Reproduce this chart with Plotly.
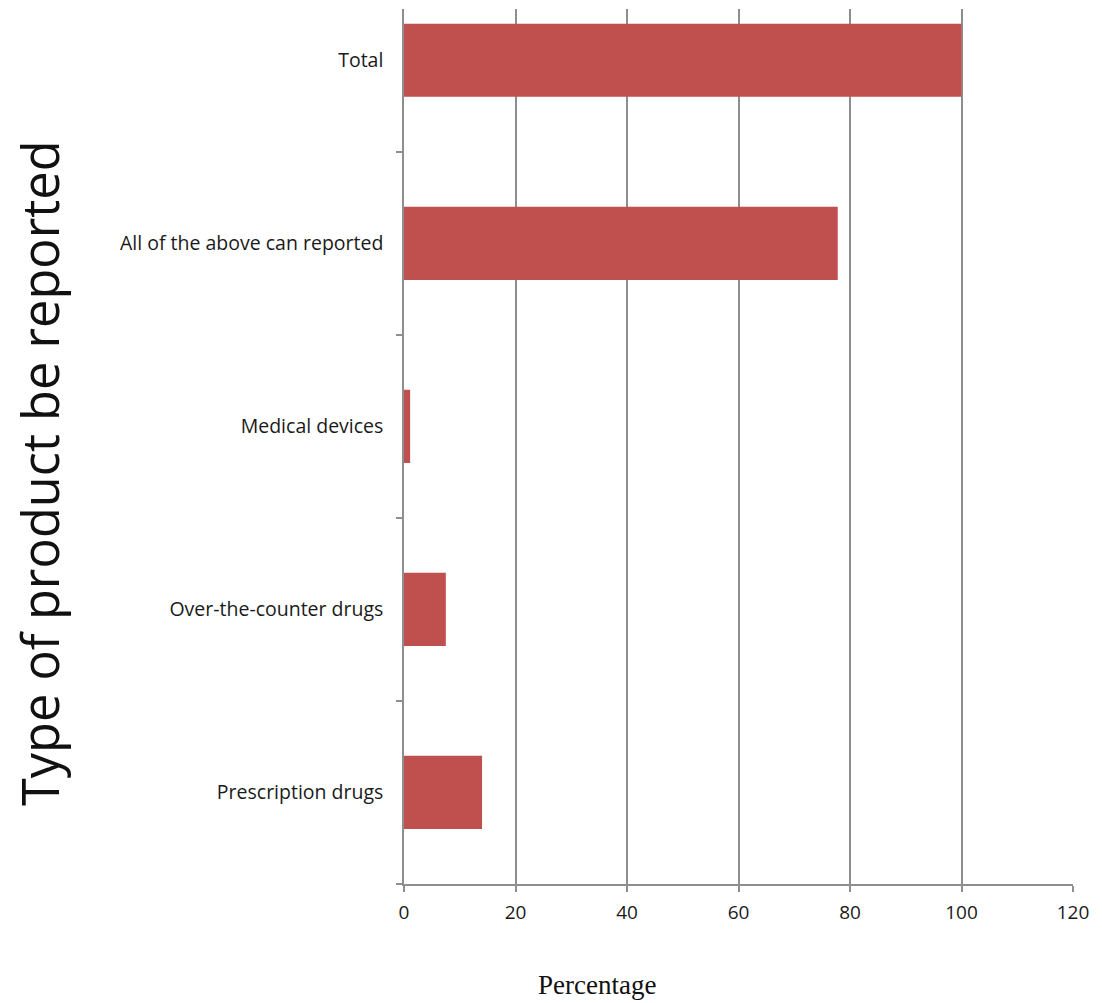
import plotly.graph_objects as go

# Share of reports by product type (percent)
categories = [
    "Prescription drugs",
    "Over-the-counter drugs",
    "Medical devices",
    "All of the above can reported",
    "Total",
]
percentages = [14.0, 7.5, 1.1, 77.8, 100.0]
x_ticks = [0, 20, 40, 60, 80, 100, 120]

BAR_COLOR = "#C0504D"
GRID_COLOR = "#8E8E8E"

W, H = 1102, 1003
ML, MR, MT, MB = 404, 29, 9, 119
PW, PH = W - ML - MR, H - MT - MB

fig = go.Figure(
    go.Bar(
        x=percentages,
        y=categories,
        orientation="h",
        width=0.4,
        marker=dict(color=BAR_COLOR, line=dict(width=0)),
    )
)

fig.update_layout(
    width=W,
    height=H,
    margin=dict(l=ML, r=MR, t=MT, b=MB),
    paper_bgcolor="white",
    plot_bgcolor="white",
    showlegend=False,
    font=dict(family="Open Sans", color="#1a1a1a"),
)

fig.update_xaxes(
    range=[0, 120],
    tickvals=x_ticks,
    ticktext=[str(v) for v in x_ticks],
    showgrid=True,
    gridcolor=GRID_COLOR,
    gridwidth=1.5,
    zeroline=False,
    showline=True,
    linecolor=GRID_COLOR,
    linewidth=1.5,
    ticks="outside",
    ticklen=6,
    tickcolor=GRID_COLOR,
    tickwidth=1.5,
    ticklabelstandoff=4,
    tickfont=dict(size=19, family="Open Sans", color="#1a1a1a"),
)

fig.update_yaxes(
    type="category",
    categoryorder="array",
    categoryarray=categories,
    range=[-0.5, 4.28],
    showgrid=False,
    showline=True,
    linecolor=GRID_COLOR,
    linewidth=1.5,
    ticks="outside",
    tickson="boundaries",
    ticklen=6,
    tickcolor=GRID_COLOR,
    tickwidth=1.5,
    ticklabelstandoff=15,
    tickfont=dict(size=19.5, family="Open Sans", color="#1a1a1a"),
)

# Vertical axis title, rotated along the left edge
fig.add_annotation(
    text="Type of product be reported",
    xref="paper",
    yref="paper",
    x=(40 - ML) / PW,
    y=(H - MB - 473) / PH,
    xanchor="center",
    yanchor="middle",
    textangle=-90,
    showarrow=False,
    font=dict(size=50.5, family="Open Sans", color="#111111"),
)

# Horizontal axis title below the tick labels
fig.add_annotation(
    text="Percentage",
    xref="paper",
    yref="paper",
    x=(597 - ML) / PW,
    y=(H - MB - 985) / PH,
    xanchor="center",
    yanchor="middle",
    showarrow=False,
    font=dict(size=27, family="Liberation Serif", color="#111111"),
)

fig.write_html("out.html")
